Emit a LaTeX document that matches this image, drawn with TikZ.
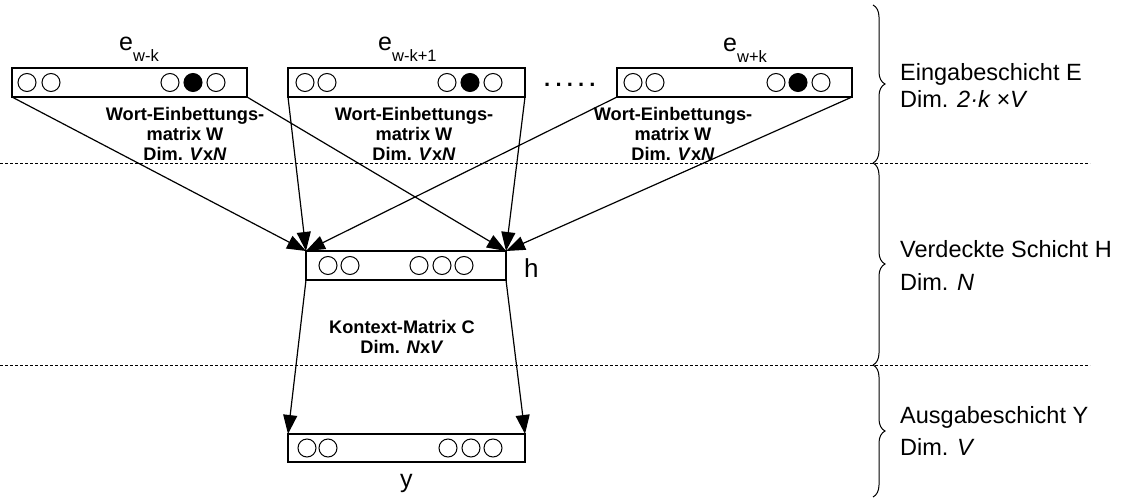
\documentclass[tikz,border=0pt]{standalone}
\usepackage{fontspec}
\setmainfont{Liberation Sans}
\usetikzlibrary{decorations.pathreplacing,arrows.meta}
\begin{document}
\begin{tikzpicture}[x=1pt,y=-1pt,
  vecbox/.style={draw,line width=1.4pt,minimum height=29pt,inner sep=0pt,outer sep=0pt},
  unit/.style={draw,circle,line width=1pt,minimum size=18pt,inner sep=0pt},
  onunit/.style={unit,fill=black},
  conn/.style={line width=1.2pt,-{Triangle[length=19pt,width=14pt]}},
  mat/.style={font=\fontsize{18.2}{19.8}\selectfont\bfseries,align=center,inner sep=0pt},
  layer/.style={font=\fontsize{23.5}{26}\selectfont,anchor=base west,inner sep=0pt},
  vname/.style={anchor=base west,inner sep=0pt},
  sep/.style={line width=0.8pt,dash pattern=on 3pt off 2pt},
  brc/.style={decorate,decoration={brace,amplitude=12pt},line width=1pt},
]
\useasboundingbox (0,0) rectangle (1122,498);

% input vectors
\node[vecbox,minimum width=235pt] (e1) at (129.5,82.5) {};
\node[vecbox,minimum width=237pt] (e2) at (406.5,82.5) {};
\node[vecbox,minimum width=235pt] (e3) at (734.5,82.5) {};
\node[vecbox,minimum width=200pt] (h) at (406,265.5) {};
\node[vecbox,minimum width=237pt,minimum height=28pt] (y) at (406.5,448) {};

% units
\foreach \i/\x in {a/27,b/51,c/170,e/216} \node[unit] (e1\i) at (\x,82.5) {};
\node[onunit] (e1d) at (193,82.5) {};
\foreach \i/\x in {a/305,b/327,c/447,e/493} \node[unit] (e2\i) at (\x,82.5) {};
\node[onunit] (e2d) at (470,82.5) {};
\foreach \i/\x in {a/633,b/655,c/776,e/821} \node[unit] (e3\i) at (\x,82.5) {};
\node[onunit] (e3d) at (798,82.5) {};
\foreach \i/\x in {a/328,b/350,c/419,d/442,e/464} \node[unit] (h\i) at (\x,265.5) {};
\foreach \i/\x in {a/307,b/328,c/448,d/471,e/493} \node[unit] (y\i) at (\x,448) {};

% vector names
\node[vname] (l1) at (119,50) {{\fontsize{25}{25}\selectfont e}\raisebox{-11pt}{\fontsize{16.5}{16.5}\selectfont w-k}};
\node[vname] (l2) at (378,50) {{\fontsize{25}{25}\selectfont e}\raisebox{-11pt}{\fontsize{16.5}{16.5}\selectfont w-k+1}};
\node[vname] (l3) at (723,51) {{\fontsize{25}{25}\selectfont e}\raisebox{-11pt}{\fontsize{16.5}{16.5}\selectfont w+k}};
\node[vname,font=\fontsize{26}{26}\selectfont] (lh) at (524,277) {h};
\node[vname,font=\fontsize{25}{25}\selectfont] (ly) at (400,487) {y};

% dots
\node[inner sep=0pt,anchor=base west,font=\fontsize{22}{22}\selectfont\bfseries] (dots) at (544,86.5) {.\hspace{5.2pt}.\hspace{5.2pt}.\hspace{5.2pt}.\hspace{5.2pt}.};

% matrix labels
\node[mat] (w1) at (185,134) {Wort-Einbettungs-\\matrix W\\Dim. \textit{V}x\textit{N}};
\node[mat] (w2) at (414,134) {Wort-Einbettungs-\\matrix W\\Dim. \textit{V}x\textit{N}};
\node[mat] (w3) at (673,134) {Wort-Einbettungs-\\matrix W\\Dim. \textit{V}x\textit{N}};
\node[mat] (kc) at (402,337) {Kontext-Matrix C\\Dim. \textit{N}x\textit{V}};

% connectors
\draw[conn] (e1.south west) -- (h.north west);
\draw[conn] (e1.south east) -- (h.north east);
\draw[conn] (e2.south west) -- (h.north west);
\draw[conn] (e2.south east) -- (h.north east);
\draw[conn] (e3.south west) -- (h.north west);
\draw[conn] (e3.south east) -- (h.north east);
\draw[conn] (h.south west) -- (y.north west);
\draw[conn] (h.south east) -- (y.north east);

% separators
\coordinate (s1a) at (0,163); \coordinate (s1b) at (1090,163);
\coordinate (s2a) at (0,365); \coordinate (s2b) at (1090,365);
\draw[sep] (s1a) -- (s1b);
\draw[sep] (s2a) -- (s2b);

% braces
\coordinate (b0) at (873,5);
\coordinate (b1) at (873,163);
\coordinate (b2) at (873,365);
\coordinate (b3) at (873,497);
\draw[brc] (b0) -- (b1);
\draw[brc] (b1) -- (b2);
\draw[brc] (b2) -- (b3);

% layer labels
\node[layer] (t1) at (900,80) {Eingabeschicht E};
\node[layer] (t2) at (900,107) {Dim. \textit{2·k ×V}};
\node[layer] (t3) at (900,257) {Verdeckte Schicht H};
\node[layer] (t4) at (900,290) {Dim. \textit{N}};
\node[layer] (t5) at (900,423) {Ausgabeschicht Y};
\node[layer] (t6) at (900,455) {Dim. \textit{V}};
\end{tikzpicture}
\end{document}
